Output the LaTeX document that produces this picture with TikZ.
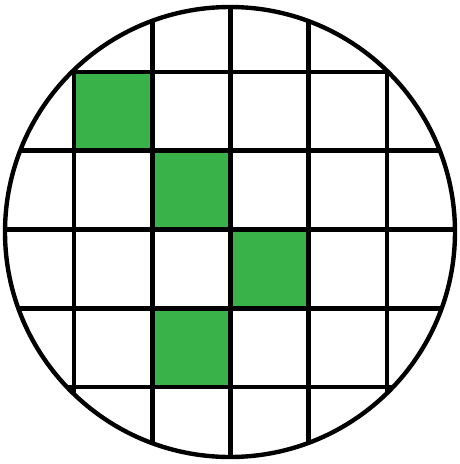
\documentclass[tikz,border=0pt]{standalone}
\usepackage{tikz}
\definecolor{cellgreen}{RGB}{58,178,74}
\begin{document}
\begin{tikzpicture}[x=0.02cm,y=-0.02cm,
gridline/.style={line width=2.7pt,black},
rim/.style={line width=2.5pt,black},
cell/.style={fill=cellgreen}
]
\useasboundingbox (0,0) rectangle (460,464);
\begin{scope}
\clip (230,232) circle [radius=225];
\foreach \c/\r in {0/0,1/1,2/2,1/3}
  \fill[cell] ({74+78.25*\c},{72+78.75*\r}) rectangle +(78.25,78.75);
\foreach \i in {0,...,4} {
  \draw[gridline] ({74+78.25*\i},0) -- ({74+78.25*\i},464);
  \draw[gridline] (0,{72+78.75*\i}) -- (460,{72+78.75*\i});
}
\end{scope}
\draw[rim] (230,232) circle [radius=225];
\end{tikzpicture}
\end{document}
